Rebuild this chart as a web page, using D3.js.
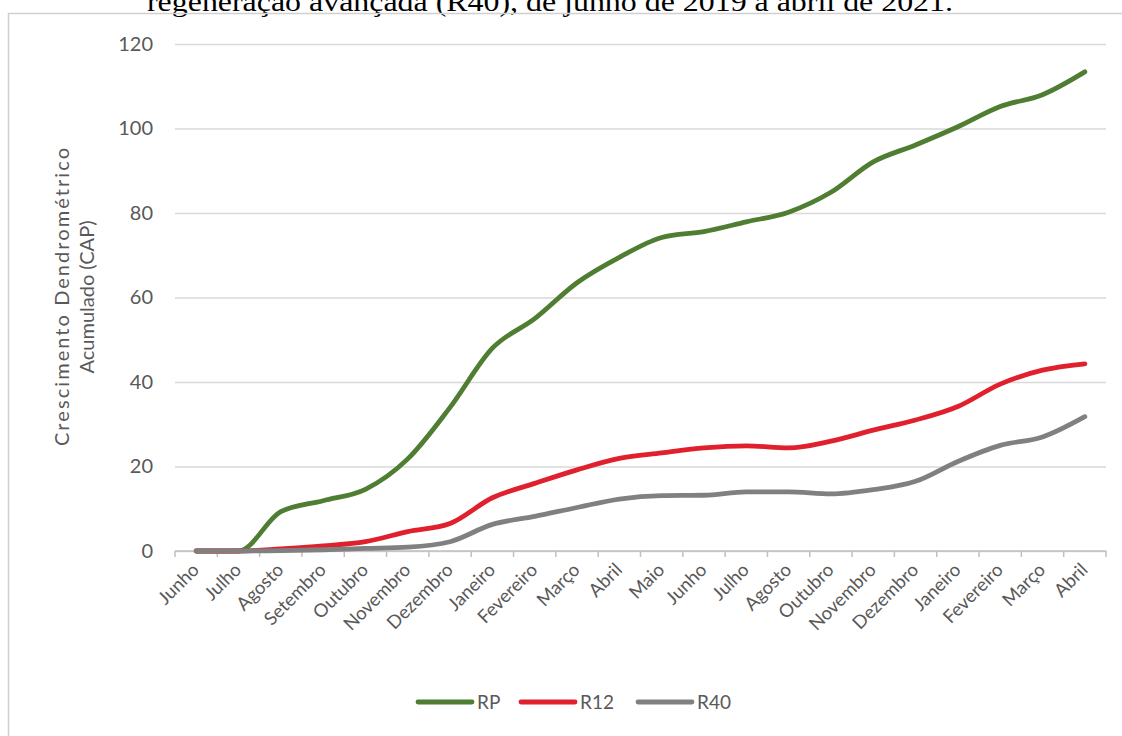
<!DOCTYPE html>
<html>
<head>
    <meta charset="utf-8">
    <title>Crescimento Dendrométrico Acumulado</title>
    <script type="text/javascript" src="https://cdn.jsdelivr.net/npm/d3@7/dist/d3.min.js"></script>
    <style>
        body { margin: 0; background: #fff; }
        svg { display: block; }
    </style>
</head>

<body>

<script type="text/javascript">
    // months, Junho 2019 to Abril 2021 (as labelled on the chart)
    var months = ["Junho", "Julho", "Agosto", "Setembro", "Outubro", "Novembro", "Dezembro",
        "Janeiro", "Fevereiro", "Março", "Abril", "Maio", "Junho", "Julho", "Agosto",
        "Outubro", "Novembro", "Dezembro", "Janeiro", "Fevereiro", "Março", "Abril"];

    var rp  = [0, 0, 9.3, 11.9, 14.6, 21.8, 34, 48, 55, 63.5, 69.5, 74.2, 75.6, 77.9, 80.2,
        84.9, 92.1, 96.1, 100.4, 105.2, 108, 113.4];
    var r12 = [0, 0, 0.5, 1.2, 2.2, 4.6, 6.5, 12.6, 16, 19.2, 21.9, 23.2, 24.4, 24.9, 24.4,
        26, 28.6, 31, 34.2, 39.5, 42.8, 44.3];
    var r40 = [0, 0, 0.1, 0.3, 0.6, 0.9, 2.2, 6.3, 8.2, 10.3, 12.3, 13.1, 13.2, 14, 14,
        13.5, 14.5, 16.5, 21.2, 25, 27, 31.8];

    var seriesNames = ["RP", "R12", "R40"];
    var yTicks = [0, 20, 40, 60, 80, 100, 120];

    var colors = {RP: "#4f7d32", R12: "#e0202d", R40: "#808080"};
    var series = [
        {name: seriesNames[0], values: rp},
        {name: seriesNames[1], values: r12},
        {name: seriesNames[2], values: r40}
    ];

    var W = 1122, H = 736;
    var plot = {left: 175, right: 1106, top: 44, bottom: 551};
    var font = "Lato, 'Open Sans', sans-serif";

    var svg = d3.select("body").append("svg")
            .attr("width", W)
            .attr("height", H);

    // caption line cut off at the top of the page
    svg.append("text")
            .attr("x", 147)
            .attr("y", 11)
            .attr("textLength", 806)
            .attr("lengthAdjust", "spacingAndGlyphs")
            .style("font-family", "'Liberation Serif', 'Times New Roman', serif")
            .style("font-size", "27px")
            .style("fill", "#000")
            .text("regeneração avançada (R40), de junho de 2019 a abril de 2021.");

    // chart frame
    svg.append("rect")
            .attr("x", 8.5)
            .attr("y", 13.5)
            .attr("width", 1125)
            .attr("height", 740)
            .style("fill", "none")
            .style("stroke", "#d0d0d0")
            .style("stroke-width", 1.5);

    var x = d3.scaleBand()
            .domain(d3.range(months.length))
            .range([plot.left, plot.right])
            .paddingInner(0)
            .paddingOuter(0);

    var y = d3.scaleLinear()
            .domain([0, 120])
            .range([plot.bottom, plot.top]);

    // gridlines + y labels
    var yAxis = svg.append("g")
            .attr("transform", "translate(" + plot.left + ",0)")
            .call(d3.axisLeft(y)
                    .tickValues(yTicks)
                    .tickSize(-(plot.right - plot.left))
                    .tickPadding(22));

    yAxis.select(".domain").remove();
    yAxis.selectAll(".tick line")
            .style("stroke", "#d9d9d9")
            .style("stroke-width", 1.5);
    yAxis.selectAll(".tick text")
            .style("font-family", font)
            .style("font-size", "20px")
            .style("fill", "#595959");

    // x axis line and boundary ticks
    svg.append("line")
            .attr("x1", plot.left)
            .attr("x2", plot.right)
            .attr("y1", y(0))
            .attr("y2", y(0))
            .style("stroke", "#bfbfbf")
            .style("stroke-width", 1.5);

    svg.selectAll("line.xtick")
            .data(d3.range(months.length + 1))
            .enter()
            .append("line")
            .attr("class", "xtick")
            .attr("x1", function (d) { return d < months.length ? x(d) : plot.right; })
            .attr("x2", function (d) { return d < months.length ? x(d) : plot.right; })
            .attr("y1", y(0))
            .attr("y2", y(0) + 6)
            .style("stroke", "#bfbfbf")
            .style("stroke-width", 1.5);

    svg.selectAll("text.xlabel")
            .data(months)
            .enter()
            .append("text")
            .attr("class", "xlabel")
            .attr("transform", function (d, i) {
                return "translate(" + (x(i) + x.bandwidth() / 2 + 4) + "," + (y(0) + 20) + ") rotate(-45)";
            })
            .attr("text-anchor", "end")
            .style("font-family", font)
            .style("font-size", "18.5px")
            .style("fill", "#595959")
            .text(function (d) { return d; });

    // y axis title, two lines
    var yTitle = svg.append("text")
            .attr("transform", "translate(69,297) rotate(-90)")
            .attr("text-anchor", "middle")
            .style("font-family", font)
            .style("font-size", "20px")
            .style("fill", "#595959");
    yTitle.append("tspan").attr("x", 0).attr("dy", 0)
            .attr("textLength", 298).attr("lengthAdjust", "spacing")
            .text("Crescimento Dendrométrico");
    yTitle.append("tspan").attr("x", 0).attr("dy", 25)
            .attr("textLength", 153).attr("lengthAdjust", "spacing")
            .text("Acumulado (CAP)");

    var line = d3.line()
            .x(function (d, i) { return x(i) + x.bandwidth() / 2; })
            .y(function (d) { return y(d); })
            .curve(d3.curveMonotoneX);

    svg.selectAll("path.series")
            .data(series)
            .enter()
            .append("path")
            .attr("class", "series")
            .attr("d", function (d) { return line(d.values); })
            .style("fill", "none")
            .style("stroke", function (d) { return colors[d.name]; })
            .style("stroke-width", 4.8)
            .style("stroke-linecap", "round")
            .style("stroke-linejoin", "round");

    // legend
    var legendX = [418, 521, 638];
    var legend = svg.selectAll("g.legend")
            .data(series)
            .enter()
            .append("g")
            .attr("class", "legend")
            .attr("transform", function (d, i) { return "translate(" + legendX[i] + ",702)"; });

    legend.append("line")
            .attr("x1", 0)
            .attr("x2", 54)
            .style("stroke", function (d) { return colors[d.name]; })
            .style("stroke-width", 4.8)
            .style("stroke-linecap", "round");

    legend.append("text")
            .attr("x", 59)
            .attr("y", 7)
            .style("font-family", font)
            .style("font-size", "19px")
            .style("fill", "#595959")
            .text(function (d) { return d.name; });
</script>

</body>

</html>
